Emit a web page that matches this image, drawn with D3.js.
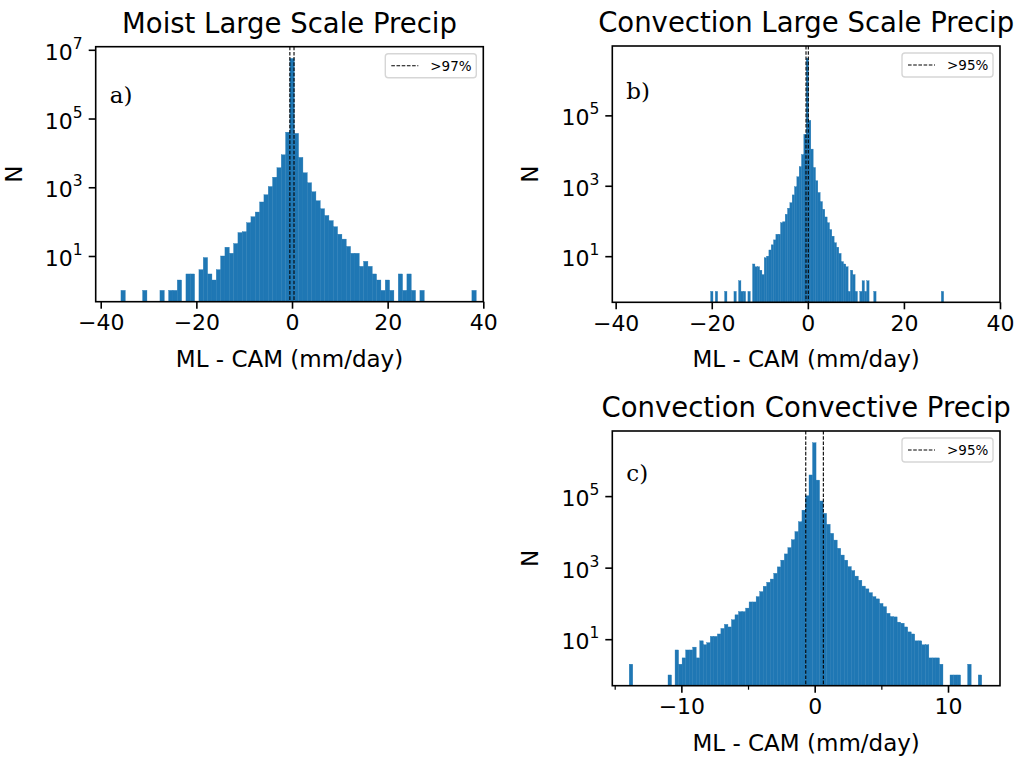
<!DOCTYPE html>
<html>
<head>
<meta charset="utf-8">
<script src="https://cdn.jsdelivr.net/npm/d3@7"></script>
<style>
  body { margin: 0; background: #fff; }
  text { font-family: "DejaVu Sans", sans-serif; fill: #000; }
</style>
</head>
<body>
<div id="chart"></div>
<script>
// ---- data (counts per histogram bin) ----
// a) Moist Large Scale Precip
var binStartA = -35.77, binWidthA = 0.906;
var countsA = [1,0,0,0,0,1,0,0,0,1, 0,1,1,2,0,3,3,0,4,9,
  3,2,4,10,18,12,23,48,51,93, 139,190,373,606,1050,1960,3700,8800,40000,5600000,
  37000,7400,2640,1350,740,405,237,151,107,71, 43,31,19,12,12,5,7,5,3,2,
  1,2,1,0,3,1,3,1,0,1, 0,0,0,0,0,0,0,0,0,0, 0,1];
var pctA = [-0.45, 0.42];

// b) Convection Large Scale Precip
var binStartB = -20.23, binWidthB = 0.485;
var countsB = [1,0,1,0,0,0,1,0,0,0, 1,0,2,1,1,0,1,0,6,5,
  5,4,3,9,10,15,21,29,42,42, 89,95,155,230,330,550,935,1800,3500,7700,
  29000,4200000,72000,11000,3300,1390,645,355,215,130, 89,57,37,24,18,12,7,6,5,1,
  4,3,1,0,1,2,1,2,0,0, 1,0,0,0,0,0,0,0,0,0, 0,0,0,0,0,0,0,0,0,0, 0,0,0,0,0,0,0,0,0,1];
var pctB = [-0.38, 0.1];

// c) Convection Convective Precip
var binStartC = -13.91, binWidthC = 0.2644;
var countsC = [2,0,0,0,0,0,0,0,0,0, 0,1,0,5,2,3,5,5,6,3,
  9,7,8,12,12,14,20,26,22,35, 48,59,59,74,110,110,155,214,302,390,
  480,695,1050,1620,2420,3630,6050,10200,19200,40500, 102000,390000,3100000,280000,73000,33000,16300,9100,5900,3480,
  2250,1620,1070,830,580,445,305,255,200,155, 134,100,81,53,43,42,30,28,22,16,
  14,9,9,7,7,3,3,3,2,0, 0,1,1,1,0,0,2,0,0,1];
var pctC = [-0.67, 0.65];

var legendA = ">97%", legendB = ">95%", legendC = ">95%";
var titles = ["Moist Large Scale Precip", "Convection Large Scale Precip", "Convection Convective Precip"];
var xTicksAB = [-40, -20, 0, 20, 40];
var xTicksC = [-10, 0, 10];
var xMinorC = [-15, -5, 5];
var yTicks = [1e1, 1e3, 1e5, 1e7];

var svg = d3.select("#chart").append("svg")
  .attr("width", 1018).attr("height", 760);

var blue = "#1f77b4";

function panel(o) {
  var x = d3.scaleLinear().domain(o.xDom).range([o.left, o.right]);
  var y = d3.scaleLog().domain(o.yDom).range([o.bottom, o.top]);
  var g = svg.append("g");

  var bins = o.counts.map(function(c, i) {
    return { x0: o.start + i * o.width, x1: o.start + (i + 1) * o.width, n: c };
  }).filter(function(d) { return d.n > 0; });

  g.append("g").selectAll("rect")
    .data(bins).enter().append("rect")
    .attr("x", d => x(d.x0))
    .attr("width", d => x(d.x1) - x(d.x0))
    .attr("y", d => y(d.n))
    .attr("height", d => o.bottom - y(d.n))
    .attr("fill", blue)
    .attr("stroke", blue).attr("stroke-width", 0.35);

  // percentile lines
  g.append("g").selectAll("line")
    .data(o.pct).enter().append("line")
    .attr("x1", d => x(d)).attr("x2", d => x(d))
    .attr("y1", o.top).attr("y2", o.bottom)
    .attr("stroke", "#000").attr("stroke-width", 1.1)
    .attr("stroke-dasharray", "3.6,1.6");

  // x axis
  var xa = g.append("g").attr("transform", "translate(0," + o.bottom + ")")
    .call(d3.axisBottom(x).tickValues(o.xTicks).tickSize(7).tickPadding(6));
  if (o.xMinor) {
    g.append("g").attr("transform", "translate(0," + o.bottom + ")")
      .call(d3.axisBottom(x).tickValues(o.xMinor).tickSize(4).tickFormat(""))
      .call(s => s.select(".domain").remove())
      .selectAll("line").attr("stroke-width", 1.2);
  }
  xa.selectAll("text").style("font-size", "22px").attr("font-family", "DejaVu Sans");
  xa.selectAll("line").attr("stroke-width", 1.6);
  xa.select(".domain").remove();

  // y axis
  var ticks = yTicks.filter(t => t >= o.yDom[0] && t <= o.yDom[1]);
  var ya = g.append("g").attr("transform", "translate(" + o.left + ",0)")
    .call(d3.axisLeft(y).tickValues(ticks).tickSize(7).tickFormat(""));
  ya.select(".domain").remove();
  ya.selectAll("line").attr("stroke-width", 1.6);
  var yl = g.append("g").selectAll("text").data(ticks).enter().append("text")
    .attr("x", o.left - 13)
    .attr("y", d => y(d) + 10)
    .attr("text-anchor", "end")
    .style("font-size", "22px");
  yl.append("tspan").text("10");
  yl.append("tspan").attr("dy", -11).style("font-size", "15.5px")
    .text(d => Math.round(Math.log10(d)));

  // frame
  g.append("rect")
    .attr("x", o.left).attr("y", o.top)
    .attr("width", o.right - o.left).attr("height", o.bottom - o.top)
    .attr("fill", "none").attr("stroke", "#000").attr("stroke-width", 1.6);

  // titles and labels
  g.append("text").attr("x", (o.left + o.right) / 2).attr("y", o.top - 14)
    .attr("text-anchor", "middle").style("font-size", "27.5px").text(o.title);
  g.append("text").attr("x", (o.left + o.right) / 2).attr("y", o.bottom + 65)
    .attr("text-anchor", "middle").style("font-size", "23px").text("ML - CAM (mm/day)");
  g.append("text")
    .attr("transform", "translate(" + (o.left - 74) + "," + ((o.top + o.bottom) / 2) + ") rotate(-90)")
    .attr("text-anchor", "middle").style("font-size", "23px").text("N");
  g.append("text").attr("x", o.left + 14).attr("y", o.top + o.letterDy)
    .style("font-family", "DejaVu Serif").style("font-size", "23px").text(o.letter);

  // legend
  var lx = o.right - 98, ly = o.top + 7;
  g.append("rect").attr("x", lx).attr("y", ly).attr("width", 91).attr("height", 24)
    .attr("rx", 3).attr("fill", "#fff").attr("stroke", "#d6d6d6").attr("stroke-width", 1.4);
  g.append("line").attr("x1", lx + 6).attr("x2", lx + 33)
    .attr("y1", ly + 12).attr("y2", ly + 12)
    .attr("stroke", "#000").attr("stroke-width", 1.1).attr("stroke-dasharray", "3.6,1.6");
  g.append("text").attr("x", lx + 45).attr("y", ly + 17)
    .style("font-size", "13.5px").text(o.legend);
}

panel({ left: 95.7, right: 483.3, top: 46.7, bottom: 301.7,
  xDom: [-41.05, 40], yDom: [Math.pow(10, -0.33), Math.pow(10, 7.09)],
  start: binStartA, width: binWidthA, counts: countsA, pct: pctA,
  xTicks: xTicksAB, title: titles[0], letter: "a)", letterDy: 56, legend: legendA });

panel({ left: 612.3, right: 1000, top: 46, bottom: 302.3,
  xDom: [-40.7, 40], yDom: [Math.pow(10, -0.31), Math.pow(10, 6.97)],
  start: binStartB, width: binWidthB, counts: countsB, pct: pctB,
  xTicks: xTicksAB, title: titles[1], letter: "b)", letterDy: 53, legend: legendB });

panel({ left: 612.3, right: 1000, top: 431, bottom: 685.7,
  xDom: [-15.18, 13.9], yDom: [Math.pow(10, -0.30), Math.pow(10, 6.82)],
  start: binStartC, width: binWidthC, counts: countsC, pct: pctC,
  xTicks: xTicksC, xMinor: xMinorC, title: titles[2], letter: "c)", letterDy: 50, legend: legendC });
</script>
</body>
</html>
